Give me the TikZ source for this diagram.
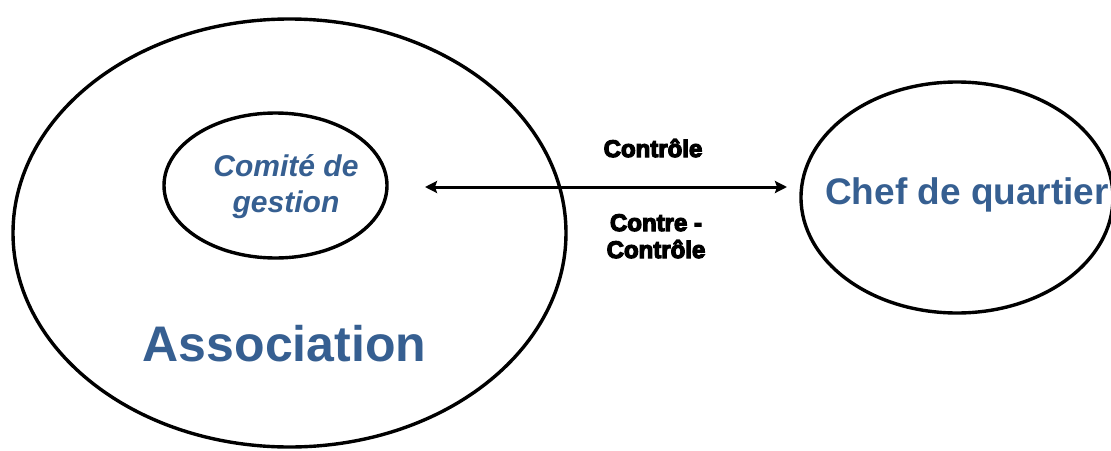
\documentclass[tikz,border=0pt]{standalone}
\usepackage{fontspec}
\setmainfont{Liberation Sans}
\newfontfamily\heavyfont[FakeBold=5]{Liberation Sans Bold}
\usetikzlibrary{shapes.geometric,arrows.meta}
\definecolor{titleblue}{RGB}{54,95,145}
\begin{document}
\begin{tikzpicture}[x=1pt,y=-1pt,
  ring/.style={draw=black,line width=3.4pt,ellipse,inner sep=0pt},
  bluetext/.style={text=titleblue,font=\bfseries,inner sep=0pt,anchor=base},
  linklabel/.style={text=black,font=\fontsize{24}{28}\selectfont\heavyfont,inner sep=0pt,anchor=base},
  link/.style={line width=3pt,{Stealth[length=12pt,width=12pt,inset=2pt]}-{Stealth[length=12pt,width=12pt,inset=2pt]}}]
\useasboundingbox (0,0) rectangle (1111,450);
\fill[white] (0,0) rectangle (1111,450);

% the association with its management committee inside
\node[ring,minimum width=553pt,minimum height=428pt] (assoc) at (289.5,233) {};
\node[ring,minimum width=223pt,minimum height=145pt] (comite) at (275.5,185.5) {};
\node[bluetext,font=\fontsize{30}{36}\selectfont\bfseries\itshape] (comite1) at (286,176) {Comité de};
\node[bluetext,font=\fontsize{30}{36}\selectfont\bfseries\itshape] (comite2) at (286,212) {gestion};
\node[bluetext,font=\fontsize{50}{60}\selectfont\bfseries] (assoclabel) at (284.5,361) {Association};

% the district head
\node[ring,minimum width=312pt,minimum height=231pt] (chef) at (957,197.5) {};
\node[bluetext,font=\fontsize{37}{44}\selectfont\bfseries,anchor=base west] (cheflabel) at (825,204) {Chef de quartier};

% control in both directions
\coordinate (linkL) at (425,187);
\coordinate (linkR) at (787,187);
\draw[link] (linkL) -- (linkR);
\node[linklabel] (ctrl) at (653,157) {Contrôle};
\node[linklabel] (contre1) at (656,231) {Contre -};
\node[linklabel] (contre2) at (656,258) {Contrôle};
\end{tikzpicture}
\end{document}
